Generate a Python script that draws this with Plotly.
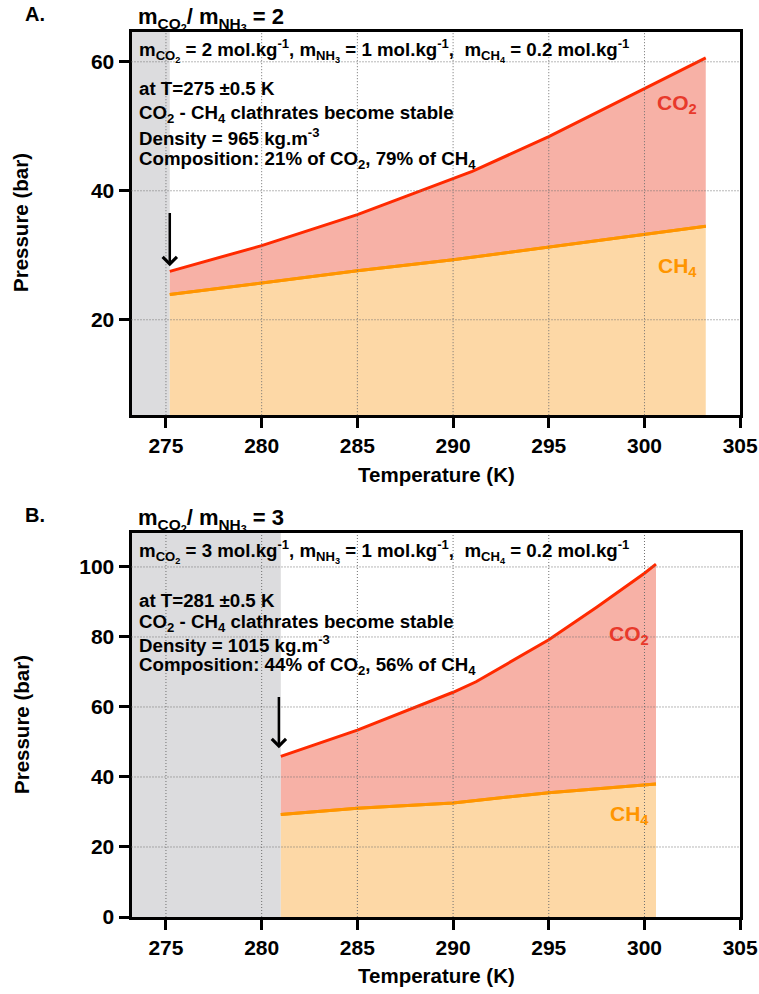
import plotly.graph_objects as go

W, H = 759, 994

# ---------------- data ----------------
# Panel A  (m_CO2 / m_NH3 = 2)
a_co2_T = [275.2, 280, 285, 290, 291, 295, 300, 303.2]
a_co2_P = [27.5, 31.5, 36.3, 41.9, 43.0, 48.4, 55.8, 60.6]
a_ch4_T = [275.2, 280, 285, 290, 295, 300, 303.2]
a_ch4_P = [23.9, 25.7, 27.6, 29.3, 31.3, 33.3, 34.5]
a_stable_T = 275.2

# Panel B  (m_CO2 / m_NH3 = 3)
b_co2_T = [281.0, 285, 290, 291.2, 295, 297.5, 300, 300.6]
b_co2_P = [45.9, 53.4, 64.2, 67.2, 79.2, 88.5, 98.2, 100.8]
b_ch4_T = [281.0, 285, 290, 295, 300.6]
b_ch4_P = [29.3, 31.1, 32.6, 35.5, 38.0]
b_stable_T = 281.0

x_ticks = [275, 280, 285, 290, 295, 300, 305]
a_y_ticks = [20, 40, 60]
b_y_ticks = [0, 20, 40, 60, 80, 100]
x_range = [273.2, 305]
a_y_range = [5.2, 64.7]
b_y_range = [0, 109.7]

# ---------------- styles ----------------
FONT = "Liberation Sans, Arial, Helvetica, sans-serif"
CO2_LINE = "#FF2A00"
CO2_FILL = "#F7B1A6"
CO2_TEXT = "#E8392B"
CH4_LINE = "#FF9500"
CH4_FILL = "#FDD8A6"
GREY = "#DCDCDE"
GRID = "#707070"


def px_x(x):
    return x / W


def px_y(y):
    return 1 - y / H


fig = go.Figure()

panels = [
    dict(xa="x", ya="y", co2T=a_co2_T, co2P=a_co2_P, ch4T=a_ch4_T, ch4P=a_ch4_P,
         stable=a_stable_T, yr=a_y_range, yt=a_y_ticks),
    dict(xa="x2", ya="y2", co2T=b_co2_T, co2P=b_co2_P, ch4T=b_ch4_T, ch4P=b_ch4_P,
         stable=b_stable_T, yr=b_y_range, yt=b_y_ticks),
]

shapes = []
for p in panels:
    fig.add_trace(go.Scatter(x=p["ch4T"], y=p["ch4P"], mode="lines",
                             line=dict(color=CH4_LINE, width=3),
                             fill="tozeroy", fillcolor=CH4_FILL,
                             xaxis=p["xa"], yaxis=p["ya"], showlegend=False,
                             hoverinfo="skip"))
    fig.add_trace(go.Scatter(x=p["co2T"], y=p["co2P"], mode="lines",
                             line=dict(color=CO2_LINE, width=3),
                             fill="tonexty", fillcolor=CO2_FILL,
                             xaxis=p["xa"], yaxis=p["ya"], showlegend=False,
                             hoverinfo="skip"))
    # re-draw the CH4 line on top of the CO2 fill
    fig.add_trace(go.Scatter(x=p["ch4T"], y=p["ch4P"], mode="lines",
                             line=dict(color=CH4_LINE, width=3),
                             xaxis=p["xa"], yaxis=p["ya"], showlegend=False,
                             hoverinfo="skip"))
    # grey region (clathrates not stable)
    shapes.append(dict(type="rect", xref=p["xa"], yref=p["ya"] + " domain",
                       x0=x_range[0], x1=p["stable"], y0=0, y1=1,
                       fillcolor=GREY, line=dict(width=0), layer="below"))
    # dotted grid drawn above fills
    for t in x_ticks:
        if x_range[0] < t < x_range[1]:
            shapes.append(dict(type="line", xref=p["xa"], yref=p["ya"] + " domain",
                               x0=t, x1=t, y0=0, y1=1,
                               line=dict(color=GRID, width=1, dash="1px,2px"), layer="above"))
    for t in p["yt"]:
        if p["yr"][0] < t < p["yr"][1]:
            shapes.append(dict(type="line", xref=p["xa"] + " domain", yref=p["ya"],
                               x0=0, x1=1, y0=t, y1=t,
                               line=dict(color=GRID, width=1, dash="1px,2px"), layer="above"))

xdom = [px_x(131.5), px_x(740.2)]
a_ydom = [px_y(415.2), px_y(31.5)]
b_ydom = [px_y(917.0), px_y(533.0)]

axis_common = dict(showline=True, linewidth=3, linecolor="black", mirror=True,
                   ticks="outside", ticklen=10, tickwidth=3, tickcolor="black",
                   tickfont=dict(family=FONT, size=21, color="black", weight=700),
                   showgrid=False, zeroline=False, automargin=False)

fig.update_layout(
    template="none",
    width=W, height=H, margin=dict(l=0, r=0, t=0, b=0, pad=0),
    paper_bgcolor="white", plot_bgcolor="white",
    font=dict(family=FONT, color="black"),
    xaxis=dict(domain=xdom, range=x_range, tickvals=x_ticks, anchor="y", **axis_common),
    yaxis=dict(domain=a_ydom, range=a_y_range, tickvals=a_y_ticks, anchor="x", **axis_common),
    xaxis2=dict(domain=xdom, range=x_range, tickvals=x_ticks, anchor="y2", **axis_common),
    yaxis2=dict(domain=b_ydom, range=b_y_range, tickvals=b_y_ticks, anchor="x2", **axis_common),
    shapes=shapes,
)

ann = []


def txt(text, x, y, size=18.7, color="black", xanchor="left", yanchor="middle", textangle=0):
    ann.append(dict(text=text, x=px_x(x), y=px_y(y), xref="paper", yref="paper",
                    xanchor=xanchor, yanchor=yanchor, showarrow=False, textangle=textangle,
                    font=dict(family=FONT, size=size, color=color, weight=700)))


MCO2 = "m<sub>CO<sub>2</sub></sub>"
MNH3 = "m<sub>NH<sub>3</sub></sub>"
MCH4 = "m<sub>CH<sub>4</sub></sub>"
CO2 = "CO<sub>2</sub>"
CH4 = "CH<sub>4</sub>"
UNIT = "mol.kg<sup>-1</sup>"

panel_text = [
    dict(letter="A.", ratio="2", m_co2="2", T="275", dens="965", comp=("21", "79"),
         lines=[50, 89, 114, 136.5, 160], title_y=16),
    dict(letter="B.", ratio="3", m_co2="3", T="281", dens="1015", comp=("44", "56"),
         lines=[551, 600, 623, 644, 666], title_y=517),
]

for pt in panel_text:
    txt(pt["letter"], 35, pt["title_y"] - 2, size=20, xanchor="center")
    txt(f"{MCO2}/ {MNH3} = {pt['ratio']}", 136, pt["title_y"] + 3, size=22)
    L = pt["lines"]
    txt(f"{MCO2} = {pt['m_co2']} {UNIT}, {MNH3} = 1 {UNIT},  {MCH4} = 0.2 {UNIT}", 137, L[0])
    txt(f"at T={pt['T']} ±0.5 K", 137, L[1])
    txt(f"{CO2} - {CH4} clathrates become stable", 137, L[2])
    txt(f"Density = {pt['dens']} kg.m<sup>-3</sup>", 137, L[3])
    txt(f"Composition: {pt['comp'][0]}% of {CO2}, {pt['comp'][1]}% of {CH4}", 137, L[4])

# axis titles
txt("Temperature (K)", 436, 474, size=20.5, xanchor="center")
txt("Temperature (K)", 436, 975, size=20.5, xanchor="center")
txt("Pressure (bar)", 21, 223, size=20.5, xanchor="center", textangle=-90)
txt("Pressure (bar)", 21, 725, size=20.5, xanchor="center", textangle=-90)

# curve labels (data coordinates)
curve_labels = [
    ("x", "y", CO2, 301.7, 53.5, CO2_TEXT),
    ("x", "y", CH4, 301.7, 28.2, CH4_LINE),
    ("x2", "y2", CO2, 299.2, 80.7, CO2_TEXT),
    ("x2", "y2", CH4, 299.2, 29.0, CH4_LINE),
]
for xa, ya, t, x, y, c in curve_labels:
    ann.append(dict(text=t, x=x, y=y, xref=xa, yref=ya, showarrow=False,
                    xanchor="center", yanchor="middle",
                    font=dict(family=FONT, size=21, color=c, weight=700)))

# arrows marking onset of stability
arrows = [
    ("x", "y", a_stable_T, 28.3, 36.8),
    ("x2", "y2", b_stable_T - 0.1, 48.2, 63.3),
]
for xa, ya, x, ytip, ytail in arrows:
    ann.append(dict(text="", x=x, y=ytip, xref=xa, yref=ya, ax=x, ay=ytail,
                    axref=xa, ayref=ya, showarrow=True, arrowhead=4, arrowsize=1.1,
                    arrowwidth=2.5, arrowcolor="black"))

fig.update_layout(annotations=ann)
fig.write_html("out.html")
